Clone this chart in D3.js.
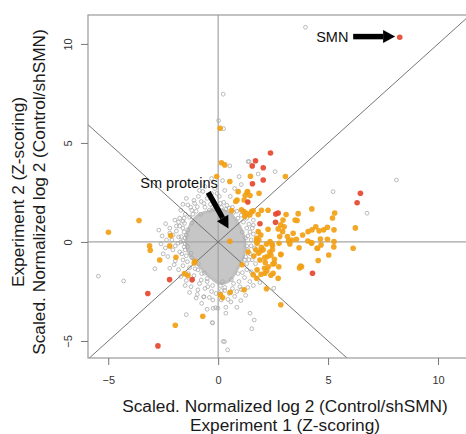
<!DOCTYPE html>
<html>
<head>
<meta charset="utf-8">
<script src="https://cdn.jsdelivr.net/npm/d3@7"></script>
<style>
  body { margin: 0; background: #fff; }
  svg text { font-family: "Liberation Sans", Arial, sans-serif; }
</style>
</head>
<body>
<script>
//axis ticks and titles
var xTicks = [-5, 0, 5, 10],
    yTicks = [-5, 0, 5, 10];
var xTitle = ["Scaled. Normalized log 2 (Control/shSMN)", "Experiment 1 (Z-scoring)"],
    yTitle = ["Experiment 2 (Z-scoring)", "Scaled. Normalized log 2 (Control/shSMN)"];

//outline of the saturated grey core of the cloud (x, y)
var coreOutline = [[-0.98,1.28],[-0.45,1.53],[0.15,1.62],[0.61,1.36],[0.99,0.77],[1.21,0.02],
    [1.14,-0.74],[0.84,-1.41],[0.53,-1.92],[0.08,-2.09],[-0.38,-1.75],[-0.83,-1.25],
    [-1.29,-0.66],[-1.44,-0.07],[-1.36,0.61]];

//non-significant proteins (grey rings)
var greyPts = [[-1.38,1.87],[-1.07,1.95],[-0.77,2.04],[-0.5,2.2],[-0.3,2.45],[-0.9,2.3],[-1.2,1.6],
    [-0.6,1.75],[-0.35,1.9],[-1.5,1.4],[-1.75,1.2],[-0.15,2.7],[0.05,2.3],[0.25,2.0],[-0.05,1.85],
    [0.4,1.85],[-1.0,1.55],[-1.3,1.25],[-0.7,2.55],[-1.1,2.1],
    [-1.53,0.94],[-1.38,0.61],[-1.68,0.27],[-1.83,-0.07],[-2.06,-0.4],[-2.29,-0.74],[-1.38,-0.24],
    [-1.23,-0.57],[-1.6,-0.91],[-1.97,1.1],[-2.39,0.92],[-2.55,0.3],[-1.9,0.55],[-2.1,0.1],
    [-1.6,0.05],[-1.75,-0.5],[-2.4,-0.3],[-1.5,-0.4],[-1.9,0.8],[-2.7,0.6],[-1.6,0.7],[-2.2,0.45],
    [-0.92,-1.41],[-0.62,-1.58],[-0.77,-1.92],[-0.47,-2.26],[-1.23,-2.26],[-0.92,-2.42],[-1.3,-1.3],
    [-1.1,-1.7],[-1.6,-1.2],[-1.8,-1.4],[-2.88,-1.35],[-2.2,-1.33],[-1.45,-1.95],[-0.3,-2.5],
    [-0.65,-2.76],[-1.0,-2.83],[-0.66,-2.78],
    [-0.24,-2.93],[-0.01,-3.35],[0.14,-2.93],[-0.12,-3.32],[-0.23,-3.35],[0.58,-3.03],[1.03,-2.96],
    [0.99,-2.26],[1.44,-2.0],[1.9,-2.05],[0.3,-2.3],[0.7,-2.1],[0.5,-2.6],[0.85,-2.5],[1.2,-1.8],
    [0.1,-2.2],[-0.1,-2.6],[0.35,-3.3],[2.53,-2.34],[1.45,-3.6],
    [-1.45,-3.67],[-0.25,-4.09],[0.29,-5.03],[-5.45,-1.73],[-4.3,-1.97],[-0.27,-4.07],[1.53,-4.38],
    [1.64,-3.94],[0.23,-5.02],[0.43,-5.45],[5.23,2.54],[2.59,3.55],[1.41,4.06],[1.82,3.43],
    [3.97,10.84],[8.11,3.13],[6.77,1.45],[0.23,7.46],[0.02,6.13],[0.25,5.72],[0.53,3.84],[1.36,4.06],
    [0.75,2.7],[0.95,3.3],[1.05,2.9],[0.2,3.1],[-0.3,3.2],
    [1.4,0.9],[1.6,0.4],[1.5,-0.2],[1.4,-0.9],[1.3,-1.4],[1.6,1.1],[1.35,0.3],[1.45,-0.6],[1.7,-1.1],
    [1.55,0.7],
    [0.9,1.2],[0.5,1.7],[-0.2,1.65],[1.1,0.5],[1.3,-0.2],[1.2,-0.9],[0.9,-1.6],[0.6,-1.9],[0.2,-2.0],
    [-0.5,-1.85],[-0.9,-1.1],[-1.2,-0.8],[-1.5,-0.1],[-1.45,0.35],[-1.2,0.95],[-0.8,1.4],[-0.4,1.6],
    [0.7,1.5],[1.15,1.0],[1.25,0.2],
    [-1.25,1.75],[-0.95,1.78],[-0.65,1.95],[-0.2,2.05],[0.1,1.95],[0.35,1.65],[0.65,1.75],[0.85,1.55],
    [-0.45,2.35],[-0.85,2.6],[-1.45,2.2],[-1.7,1.6],[-0.05,2.45],[0.3,2.6],[-0.6,2.8],[0.55,2.3],
    [-1.6,1.9],[-0.25,1.75],[0.15,1.75],[-1.15,1.4],
    [-1.6,1.05],[-1.75,0.8],[-1.55,0.5],[-1.7,0.0],[-1.55,-0.25],[-1.45,-0.7],[-1.65,-0.6],[-1.95,-0.2],
    [-2.05,0.35],[-2.2,0.7],[-1.95,-0.95],[-2.0,-1.15],[-1.4,-1.0],[-1.8,0.25],[-2.35,0.1],[-2.5,-0.6],
    [-2.6,-0.1],[-1.55,1.2],[-1.8,1.0],[-1.5,0.2],
    [-1.05,-1.35],[-0.75,-1.6],[-0.5,-2.0],[-1.35,-1.6],[-1.2,-1.95],[-0.85,-2.1],[-0.6,-2.35],
    [-0.25,-2.2],[-1.5,-2.2],[-0.95,-2.65],[-0.4,-2.8],[-1.7,-1.75],[-1.3,-2.55],[-0.75,-3.1],[-0.5,-3.4],
    [0.3,-2.45],[0.65,-2.35],[0.95,-2.0],[1.1,-1.55],[1.3,-1.1],[1.05,-2.4],[1.35,-2.3],[1.6,-2.2],
    [0.75,-2.75],[0.45,-2.9],[1.25,-2.7],[0.85,-3.3],[1.5,-1.5],[0.15,-2.45],[0.35,-3.6],
    [1.3,1.2],[1.3,0.7],[1.45,0.5],[1.35,-0.4],[1.5,0.1],[1.25,-0.75],[1.55,-0.9],[1.05,1.35],
    [1.65,-0.3],[1.6,0.85]];

//significant in one experiment (orange)
var orangePts = [[-3.6,1.08],[-4.99,0.49],[-2.16,0.32],[-3.12,-0.2],[-3.09,-0.42],[-2.2,-0.2],
    [-2.66,-0.91],[-1.92,-0.77],[-1.05,-0.98],[-1.09,-1.06],[-1.53,-1.6],[-1.38,-1.7],[0.1,-2.66],
    [0.2,-2.81],[-0.7,-3.75],[-1.95,-4.21],
    [0.55,-2.54],[1.18,-2.41],[1.09,-1.15],[1.59,-1.65],[1.77,-1.41],[1.95,-1.63],[2.11,-1.33],
    [2.21,-1.46],[2.4,-1.68],[2.2,-2.36],[2.85,-3.17],[2.14,-1.04],[2.49,-1.11],[2.76,-1.25],
    [2.56,-0.87],[2.4,-0.67],[2.24,-0.74],[2.35,-0.51],[2.85,-0.64],[3.7,-1.31],[3.75,-1.22],
    [4.55,-0.94],[5.03,-0.66],[3.68,-0.29],[4.52,-0.32],[5.26,-0.25],[6.14,-0.32],
    [4.68,-0.15],[5.27,0.02],[4.25,-0.07],[4.08,0.05],[3.26,-0.1],[3.2,0.05],[2.77,-0.07],
    [2.47,-0.19],[2.36,0.02],[2.2,-0.1],[1.77,-0.07],[1.97,-0.27],[1.94,-0.44],[1.84,-0.57],
    [1.75,0.05],[0.53,0.03],
    [3.06,3.3],[1.47,3.32],[1.86,2.46],[1.32,2.51],[1.23,2.34],[4.26,1.67],[5.3,1.46],[5.2,1.21],
    [3.64,1.43],[3.5,1.11],[3.59,1.08],[3.09,1.38],[2.27,1.6],[1.97,1.6],[1.82,1.38],[1.59,1.57],
    [1.44,1.36],[1.17,1.53],[1.21,1.28],
    [2.95,1.11],[2.85,0.86],[3.0,0.77],[2.93,0.52],[2.73,0.66],[2.8,0.27],[3.41,0.44],[3.15,0.27],
    [3.34,0.1],[3.56,0.14],[3.84,0.35],[4.09,0.52],[4.27,0.61],[4.44,0.77],[4.59,0.56],[4.8,0.61],
    [4.97,0.74],[5.27,0.61],[6.24,0.71],[4.65,0.15],[4.97,0.14],[4.25,-0.03],[4.5,-0.32],
    [2.27,0.64],[1.94,0.35],[1.85,0.1],[2.45,-0.1],[2.47,-0.4],[2.85,-0.62],[2.12,-0.79],
    [2.55,-1.08],[3.79,-1.25],[1.71,-0.4],[1.36,-0.51],
    [0.15,4.0],[0.3,3.89],[-0.07,3.3],[0.53,3.05],[0.91,2.54],[0.86,2.12],[0.8,2.04],[1.18,2.12],
    [1.06,1.62],[1.29,1.45],[1.52,1.53],[0.61,1.58],[1.82,0.52],[1.75,0.19],[2.05,-0.4],[1.62,-0.71],
    [1.9,-0.91],[2.28,-1.25],[2.5,-1.58],[2.73,-1.83],[2.12,-1.58],[1.75,-1.83],[0.09,5.74],
    [1.34,2.54],[1.45,2.34]];

//significant in both experiments (red)
var redPts = [[-2.21,-1.9],[-1.18,-1.9],[-3.2,-2.6],[-2.74,-5.25],[4.29,-1.58],[2.38,4.49],
    [1.7,4.1],[1.55,3.84],[2.05,3.75],[1.56,2.94],[2.05,3.13],[1.35,2.02],[2.73,1.46],[2.62,1.41],
    [2.61,0.99],[1.9,0.92],[6.47,2.46],[6.32,1.98],[8.26,10.34]];

//annotations: label, label position, arrow start and end (data units)
var notes = [
    {label: "SMN", lx: 5.19, ly: 10.37, x1: 6.14, y1: 10.37, x2: 8.05, y2: 10.37, anchor: "middle"},
    {label: "Sm proteins", lx: -0.02, ly: 3.0, x1: -0.45, y1: 2.5, x2: 0.47, y2: 0.68, anchor: "end"}
];

//draw the scatter plot
function setChart() {
    //frame dimensions
    var width = 466,
        height = 434,
        plotLeft = 88,
        plotTop = 15,
        plotBottom = 358;

    var svg = d3.select("body")
        .append("svg")
        .attr("width", width)
        .attr("height", height);

    var x = d3.scaleLinear()
        .domain([-5.92, 11.5])
        .range([plotLeft, 471]);

    var y = d3.scaleLinear()
        .domain([-5.86, 11.46])
        .range([plotBottom, plotTop]);

    svg.append("clipPath")
        .attr("id", "plotclip")
        .append("rect")
        .attr("x", plotLeft)
        .attr("y", plotTop)
        .attr("width", width - plotLeft + 10)
        .attr("height", plotBottom - plotTop);

    var plot = svg.append("g").attr("clip-path", "url(#plotclip)");

    //grey cloud
    plot.append("path")
        .datum(coreOutline)
        .attr("d", d3.line()
            .x(function (d) { return x(d[0]); })
            .y(function (d) { return y(d[1]); })
            .curve(d3.curveCardinalClosed))
        .style("fill", "#c6c6c6")
        .style("stroke", "#c0c0c0")
        .style("stroke-width", 3);

    plot.selectAll(".grey")
        .data(greyPts)
        .enter()
        .append("circle")
        .attr("class", "grey")
        .attr("cx", function (d) { return x(d[0]); })
        .attr("cy", function (d) { return y(d[1]); })
        .attr("r", 1.9)
        .style("fill", "none")
        .style("stroke", "#aaa")
        .style("stroke-width", 0.8);

    //zero lines
    plot.append("line")
        .attr("x1", x(0)).attr("x2", x(0))
        .attr("y1", plotTop).attr("y2", plotBottom)
        .style("stroke", "#a4a4a4").style("stroke-width", 1.2);
    plot.append("line")
        .attr("x1", plotLeft).attr("x2", width)
        .attr("y1", y(0)).attr("y2", y(0))
        .style("stroke", "#a4a4a4").style("stroke-width", 1.2);

    //diagonals y = x and y = -x
    var diag = [[-6, -6, 12, 12], [-6, 6, 6, -6]];
    plot.selectAll(".diag")
        .data(diag)
        .enter()
        .append("line")
        .attr("class", "diag")
        .attr("x1", function (d) { return x(d[0]); })
        .attr("y1", function (d) { return y(d[1]); })
        .attr("x2", function (d) { return x(d[2]); })
        .attr("y2", function (d) { return y(d[3]); })
        .style("stroke", "#666")
        .style("stroke-width", 0.9);

    plot.selectAll(".orange")
        .data(orangePts)
        .enter()
        .append("circle")
        .attr("class", "orange")
        .attr("cx", function (d) { return x(d[0]); })
        .attr("cy", function (d) { return y(d[1]); })
        .attr("r", 2.8)
        .style("fill", "#f29f14")
        .style("fill-opacity", 0.92);

    plot.selectAll(".red")
        .data(redPts)
        .enter()
        .append("circle")
        .attr("class", "red")
        .attr("cx", function (d) { return x(d[0]); })
        .attr("cy", function (d) { return y(d[1]); })
        .attr("r", 2.8)
        .style("fill", "#e6472f")
        .style("fill-opacity", 0.92);

    //arrows and labels
    notes.forEach(function (n) {
        var ax = x(n.x1), ay = y(n.y1), bx = x(n.x2), by = y(n.y2);
        var len = Math.hypot(bx - ax, by - ay),
            ux = (bx - ax) / len, uy = (by - ay) / len,
            head = 12, half = 6.5;
        var hx = bx - ux * head, hy = by - uy * head;
        plot.append("line")
            .attr("x1", ax).attr("y1", ay)
            .attr("x2", hx).attr("y2", hy)
            .style("stroke", "#000")
            .style("stroke-width", 5.5);
        plot.append("path")
            .attr("d", "M" + bx + "," + by +
                "L" + (hx - uy * half) + "," + (hy + ux * half) +
                "L" + (hx + uy * half) + "," + (hy - ux * half) + "Z")
            .style("fill", "#000");
        svg.append("text")
            .attr("x", x(n.lx))
            .attr("y", y(n.ly))
            .attr("dy", "0.35em")
            .attr("text-anchor", n.anchor)
            .style("font-size", "14.5px")
            .style("fill", "#111")
            .text(n.label);
    });

    //frame
    svg.append("rect")
        .attr("x", plotLeft)
        .attr("y", plotTop)
        .attr("width", width - plotLeft + 10)
        .attr("height", plotBottom - plotTop)
        .style("fill", "none")
        .style("stroke", "#999")
        .style("stroke-width", 1.2);

    //axes
    var xAxis = svg.append("g")
        .attr("transform", "translate(0," + plotBottom + ")")
        .call(d3.axisBottom(x).tickValues(xTicks).tickSize(7).tickPadding(11));

    var yAxis = svg.append("g")
        .attr("transform", "translate(" + plotLeft + ",0)")
        .call(d3.axisLeft(y).tickValues(yTicks).tickSize(7));

    [xAxis, yAxis].forEach(function (a) {
        a.select(".domain").remove();
        a.selectAll("line").style("stroke", "#777");
        a.selectAll("text")
            .style("font-size", "11px")
            .style("font-family", "Liberation Sans, Arial, sans-serif")
            .style("fill", "#333");
    });

    yAxis.selectAll("text")
        .attr("x", null)
        .attr("dy", null)
        .attr("text-anchor", "middle")
        .attr("transform", "translate(-16,0) rotate(-90)");

    //axis titles
    svg.selectAll(".xTitle")
        .data(xTitle)
        .enter()
        .append("text")
        .attr("class", "xTitle")
        .attr("x", 285)
        .attr("y", function (d, i) { return 412 + i * 19; })
        .attr("text-anchor", "middle")
        .style("font-size", "17.3px")
        .style("fill", "#1a1a1a")
        .text(function (d) { return d; });

    svg.selectAll(".yTitle")
        .data(yTitle)
        .enter()
        .append("text")
        .attr("class", "yTitle")
        .attr("transform", function (d, i) {
            return "translate(" + (24 + i * 21) + ",192) rotate(-90)";
        })
        .attr("text-anchor", "middle")
        .style("font-size", "17.3px")
        .style("fill", "#1a1a1a")
        .text(function (d) { return d; });
}

setChart();
</script>
</body>
</html>
